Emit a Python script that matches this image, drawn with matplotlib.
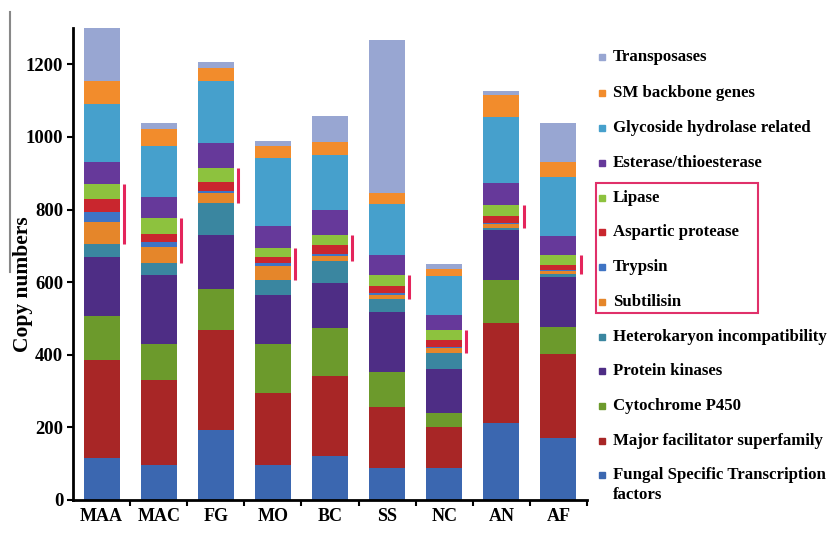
import matplotlib
matplotlib.use("Agg")
import matplotlib.pyplot as plt
import numpy as np
from matplotlib.lines import Line2D
from matplotlib.patches import Rectangle

categories = ["MAA", "MAC", "FG", "MO", "BC", "SS", "NC", "AN", "AF"]

# series from bottom to top
fungal_tf     = [115,  96, 193,  96, 121,  89,  89, 211, 170]
mfs           = [271, 234, 275, 200, 221, 166, 111, 277, 232]
p450          = [121, 101, 112, 135, 133,  97,  39, 118,  75]
kinases       = [163, 189, 150, 134, 122, 167, 121, 138, 138]
heterokaryon  = [ 34,  32,  87,  41,  62,  35,  44,   6,   7]
subtilisin    = [ 63,  44,  28,  39,  14,  11,  16,  10,   9]
trypsin       = [ 25,  15,   7,   7,   4,   4,   2,   4,   2]
aspartic      = [ 36,  23,  25,  16,  25,  20,  19,  18,  14]
lipase        = [ 42,  42,  38,  27,  28,  31,  27,  30,  28]
esterase      = [ 62,  59,  69,  60,  70,  55,  41,  62,  52]
glycoside     = [159, 140, 170, 186, 150, 140, 108, 182, 163]
sm_backbone   = [ 63,  46,  35,  35,  35,  30,  18,  59,  42]
transposases  = [145,  16,  18,  14,  73, 422,  14,  12, 105]

series_names = ["Fungal Specific Transcription\nfactors", "Major facilitator superfamily",
                "Cytochrome P450", "Protein kinases", "Heterokaryon incompatibility",
                "Subtilisin", "Trypsin", "Aspartic protease", "Lipase",
                "Esterase/thioesterase", "Glycoside hydrolase related",
                "SM backbone genes", "Transposases"]
series = [fungal_tf, mfs, p450, kinases, heterokaryon, subtilisin, trypsin,
          aspartic, lipase, esterase, glycoside, sm_backbone, transposases]
colors = ["#3b67b0", "#a82626", "#6c9a2c", "#4e2d85", "#3a86a0", "#e5862a",
          "#3f74c4", "#c9262e", "#8dc23e", "#66399a", "#46a0cc", "#f28c2c", "#98a6d2"]
yticks = [0, 200, 400, 600, 800, 1000, 1200]

serif = "Liberation Serif"
plt.rcParams['font.family'] = [serif, 'DejaVu Serif']

fig = plt.figure(figsize=(8.34, 5.46), dpi=100)
ax = fig.add_axes([73/834, 46/546, 514/834, 472/546])

x = np.arange(len(categories))
bottom = np.zeros(len(categories))
cums = []
for vals, col in zip(series, colors):
    v = np.array(vals, dtype=float)
    ax.bar(x, v, bottom=bottom, width=0.63, color=col, edgecolor='none')
    bottom = bottom + v
    cums.append(bottom.copy())

# red brackets spanning subtilisin..lipase
low = cums[4]
high = cums[8]
for i in range(len(categories)):
    ax.plot([x[i] + 0.39, x[i] + 0.39], [low[i], high[i]], color="#e4255c",
            lw=2.2, solid_capstyle='butt', clip_on=False)

ax.set_xlim(-0.5, 8.5)
ax.set_ylim(0, 1300)
ax.set_yticks(yticks)
ax.set_yticklabels([str(t) for t in yticks], fontsize=13.5, fontweight='bold')
ax.set_xticks(x + 0.5)
ax.set_xticklabels([])
ax.tick_params(axis='x', length=4, width=1.5, direction='out')
ax.tick_params(axis='y', length=4, width=1.5, direction='out', pad=3)
for i, c in enumerate(categories):
    ax.text(x[i], -22, c, ha='center', va='top', fontsize=13, fontweight='bold')
for s in ['top', 'right']:
    ax.spines[s].set_visible(False)
for s in ['left', 'bottom']:
    ax.spines[s].set_linewidth(2)
fig.text(23/834, 1 - 284/546, "Copy numbers", rotation=90, ha='center', va='center',
         fontsize=15.5, fontweight='bold')

# legend (manual)
leg_y = [57, 93, 128, 163, 198, 232, 267, 302, 337, 371, 406, 441, 475]
order = list(range(len(series)))[::-1]
for yy, k in zip(leg_y, order):
    fy = 1 - yy / 546
    fig.patches.append(Rectangle((599/834, fy - 3/546), 6/834, 6/546,
                                 transform=fig.transFigure, color=colors[k]))
    name = series_names[k]
    if "\n" in name:
        first, second = name.split("\n")
        fig.text(613/834, fy, first, ha='left', va='center', fontsize=12.1, fontweight='bold')
        fig.text(613/834, 1 - 495/546, second, ha='left', va='center', fontsize=12.1, fontweight='bold')
    else:
        fig.text(613/834, fy, name, ha='left', va='center', fontsize=12.1, fontweight='bold')

fig.patches.append(Rectangle((596/834, 1 - 313/546), 162/834, 130/546,
                             transform=fig.transFigure, fill=False,
                             edgecolor="#e0306a", lw=1.5))

fig.add_artist(Line2D([10/834, 10/834], [1 - 12/546, 1 - 272/546],
                      transform=fig.transFigure, color="#888888", lw=1.5))

fig.savefig("out.png", dpi=100)
